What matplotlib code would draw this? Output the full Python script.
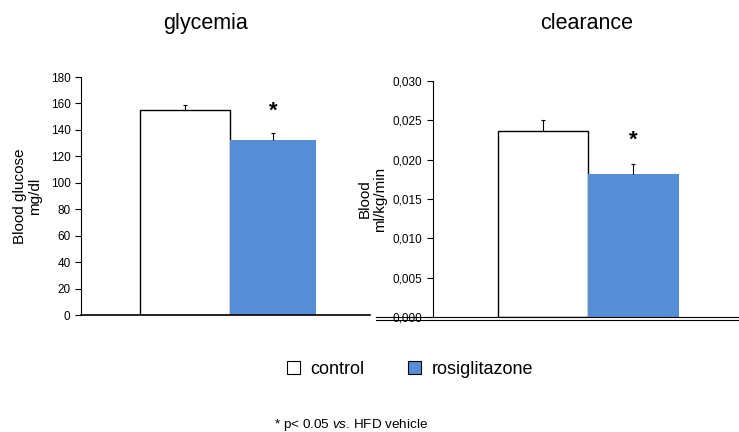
import matplotlib
matplotlib.use("Agg")
import matplotlib.pyplot as plt
from matplotlib.patches import Patch

plt.rcParams['font.family'] = ['Liberation Sans', 'DejaVu Sans']
plt.rcParams['mathtext.fontset'] = 'custom'
plt.rcParams['mathtext.it'] = 'Liberation Sans:italic'
plt.rcParams['mathtext.rm'] = 'Liberation Sans'

#%% data
groups = ["control", "rosiglitazone"]
colors = ["white", "#558ed5"]

glucose = [155, 132]
glucose_err = [4, 6]
glucose_ticks = [0, 20, 40, 60, 80, 100, 120, 140, 160, 180]

clearance = [0.0237, 0.0182]
clearance_err = [0.0013, 0.0012]
clearance_ticks = [0.000, 0.005, 0.010, 0.015, 0.020, 0.025, 0.030]


def upper_err(ax, xs, ys, errs, cap=0.025):
    # only the upper half of the error bar, small cap on top
    tops = [y + e for y, e in zip(ys, errs)]
    ax.vlines(xs, ys, tops, color='black', lw=0.8)
    ax.hlines(tops, [v - cap for v in xs], [v + cap for v in xs],
              color='black', lw=0.8)


fig = plt.figure(figsize=(7.39, 4.32), dpi=100)

#%% glycemia panel
ax1 = fig.add_axes([81/739, 1-315/432, 289/739, 238/432])
x = [0, 1]
ax1.bar(x, glucose, width=[1, 0.96], align='edge', color=colors,
        edgecolor=['black', 'none'], linewidth=1)
upper_err(ax1, [0.5, 1.48], glucose, glucose_err)
ax1.text(1.48, glucose[1] + glucose_err[1] + 8, '*', ha='center', va='bottom',
         fontsize=16, fontweight='bold')
ax1.set_xlim(-0.656, 2.556)
ax1.set_ylim(0, 180)
ax1.set_yticks(glucose_ticks)
ax1.set_xticks([])
for s in ['top', 'right']:
    ax1.spines[s].set_visible(False)
ax1.spines['bottom'].set_linewidth(1.2)
ax1.tick_params(axis='y', labelsize=8.5, length=4, width=0.8)
ax1.set_ylabel('Blood glucose\nmg/dl', fontsize=11, linespacing=1.1, labelpad=6)

#%% clearance panel
ax2 = fig.add_axes([433/739, 1-317/432, 306/739, 236/432])
ax2.bar(x, clearance, width=[1, 1.01], align='edge', color=colors,
        edgecolor=['black', 'none'], linewidth=1)
upper_err(ax2, [0.5, 1.5], clearance, clearance_err)
ax2.text(1.5, clearance[1] + clearance_err[1] + 0.0017, '*', ha='center',
         va='bottom', fontsize=16, fontweight='bold')
ax2.set_xlim(-0.722, 2.678)
ax2.set_ylim(0, 0.030)
ax2.set_yticks(clearance_ticks)
ax2.set_yticklabels([f"{t:.3f}".replace('.', ',') for t in clearance_ticks])
ax2.set_xticks([])
for s in ['top', 'right']:
    ax2.spines[s].set_visible(False)
ax2.tick_params(axis='y', labelsize=8.5, length=4, width=0.8)
ax2.spines['bottom'].set_visible(False)
tr = ax2.get_yaxis_transform()
ax2.plot([-0.186, 1], [0, 0], transform=tr, color='black', lw=0.8, clip_on=False)
ax2.plot([-0.186, 1], [-0.0004, -0.0004], transform=tr, color='black', lw=0.8,
         clip_on=False)
ax2.set_ylabel('Blood\nml/kg/min', fontsize=11, linespacing=1.1, labelpad=4)

#%% titles
fig.text(205/739, 1-29/432, 'glycemia', fontsize=15.5, ha='center', va='baseline')
fig.text(587/739, 1-29/432, 'clearance', fontsize=15.5, ha='center', va='baseline')

#%% legend and footnote
handles = [Patch(facecolor=c, edgecolor='black', linewidth=0.8) for c in colors]
fig.legend(handles, groups, loc='center', bbox_to_anchor=(410/739, 1-369/432),
           ncol=2, frameon=False, fontsize=13, handlelength=0.7,
           handleheight=0.7, handletextpad=0.6, columnspacing=2.4)
fig.text(274/739, 1-425/432, r'* p< 0.05 $\it{vs}$. HFD vehicle', fontsize=9.7,
         va='center', ha='left')

fig.savefig('out.png', dpi=100)
